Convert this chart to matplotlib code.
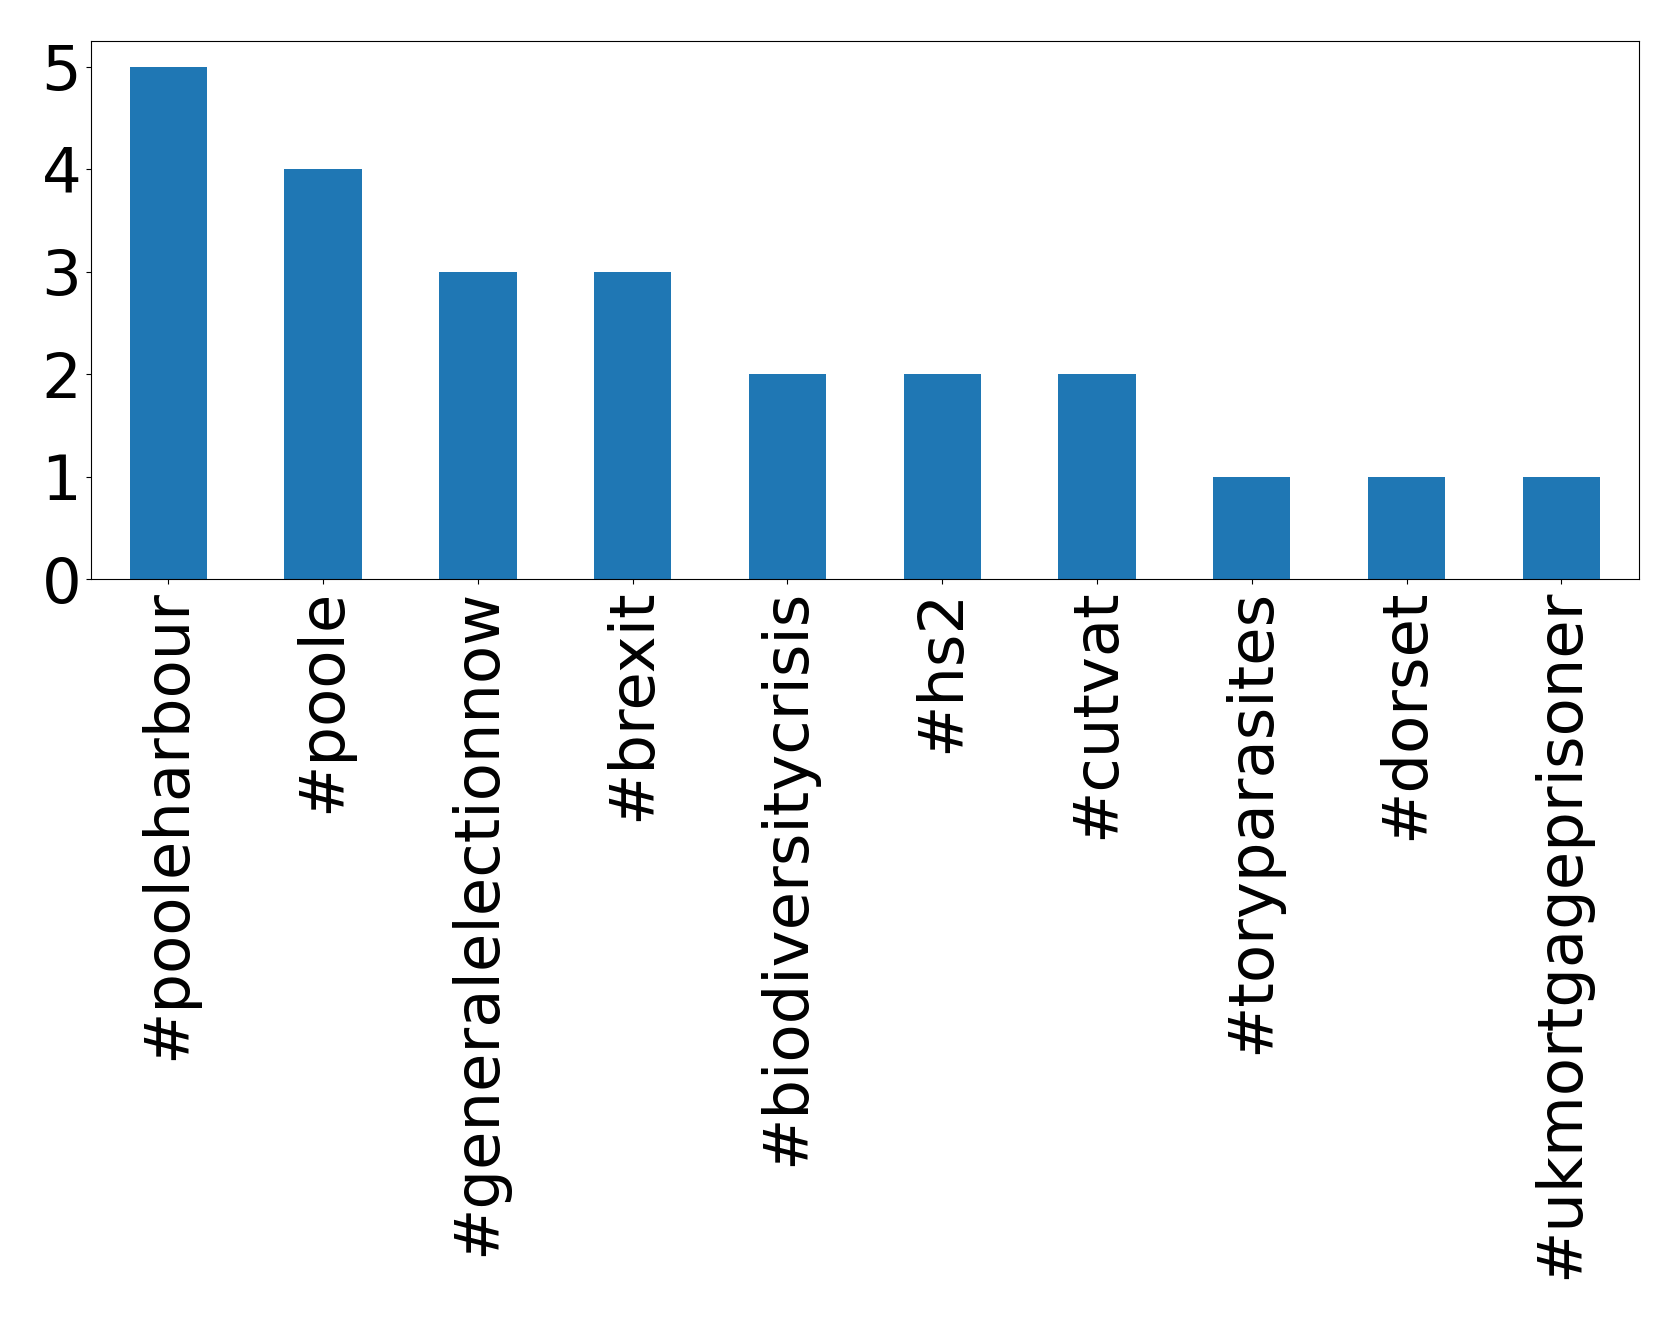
import matplotlib
matplotlib.use("Agg")
import matplotlib.pyplot as plt

hashtags = ["#pooleharbour", "#poole", "#generalelectionnow", "#brexit",
            "#biodiversitycrisis", "#hs2", "#cutvat", "#toryparasites",
            "#dorset", "#ukmortgageprisoner"]
counts = [5, 4, 3, 3, 2, 2, 2, 1, 1, 1]
yticks = [0, 1, 2, 3, 4, 5]

fig = plt.figure(figsize=(16.79, 13.19), dpi=100)
ax = fig.add_axes([0.0542, 0.561, 0.9218, 0.408])
x = range(len(hashtags))
ax.bar(x, counts, width=0.5, color="#1f77b4")
ax.set_xlim(-0.5, len(hashtags) - 0.5)
ax.set_ylim(0, 5.25)
ax.set_yticks(yticks)
ax.set_xticks(list(x))
ax.set_xticklabels(hashtags, rotation=90, fontsize=45)
ax.tick_params(axis="y", labelsize=45)
fig.savefig("out.png")
